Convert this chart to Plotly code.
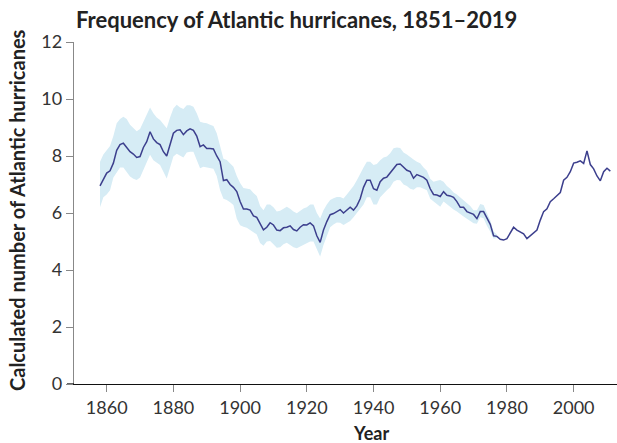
import plotly.graph_objects as go

years = list(range(1858, 2012))
hurricanes = [
    6.95, 7.2, 7.4, 7.48, 7.75, 8.2, 8.4, 8.45, 8.3, 8.15,
    8.07, 7.95, 7.98, 8.3, 8.5, 8.85, 8.6, 8.47, 8.4, 8.15,
    8.0, 8.4, 8.8, 8.9, 8.92, 8.75, 8.88, 8.95, 8.9, 8.7,
    8.33, 8.39, 8.26, 8.26, 8.25, 8.0, 7.8, 7.14, 7.17, 7.0,
    6.9, 6.75, 6.4, 6.14, 6.14, 6.1, 5.9, 5.85, 5.6, 5.41,
    5.5, 5.66, 5.58, 5.4, 5.38, 5.48, 5.5, 5.55, 5.42, 5.37,
    5.5, 5.59, 5.58, 5.65, 5.55, 5.2, 4.97, 5.4, 5.7, 5.94,
    5.98, 6.05, 6.12, 6.0, 6.1, 6.2, 6.1, 6.25, 6.5, 6.9,
    7.15, 7.15, 6.85, 6.8, 7.1, 7.22, 7.26, 7.4, 7.58, 7.7,
    7.72, 7.6, 7.5, 7.45, 7.22, 7.35, 7.3, 7.25, 7.15, 6.85,
    6.65, 6.63, 6.58, 6.75, 6.62, 6.6, 6.55, 6.4, 6.2, 6.2,
    6.05, 6.01, 5.95, 5.8, 6.05, 6.05, 5.85, 5.6, 5.2, 5.18,
    5.08, 5.05, 5.1, 5.3, 5.5, 5.4, 5.32, 5.27, 5.1, 5.2,
    5.32, 5.4, 5.75, 6.05, 6.15, 6.4, 6.5, 6.6, 6.72, 7.15,
    7.25, 7.45, 7.75, 7.78, 7.83, 7.74, 8.18, 7.7, 7.55, 7.3,
    7.13, 7.45, 7.57, 7.47,
]

band_years = list(range(1858, 1978))
band_upper = [
    7.8, 8.05, 8.2, 8.35, 8.7, 9.15, 9.3, 9.38, 9.3, 9.1,
    8.98, 8.87, 8.95, 9.2, 9.45, 9.7, 9.5, 9.35, 9.26, 9.1,
    8.97, 9.35, 9.67, 9.8, 9.7, 9.65, 9.78, 9.78, 9.73, 9.5,
    9.2, 9.17, 9.15, 9.1, 9.05, 8.8, 8.3, 7.9, 7.86, 7.75,
    7.62, 7.3, 7.05, 6.88, 6.85, 6.83, 6.7, 6.6, 6.25, 6.1,
    6.3, 6.3, 6.2, 6.05, 6.08, 6.15, 6.22, 6.15, 6.05, 5.99,
    6.08, 6.16, 6.2, 6.3, 6.3, 6.0, 5.81, 6.1, 6.3, 6.46,
    6.52, 6.56, 6.56, 6.51, 6.65, 6.8, 6.95, 7.15, 7.4, 7.6,
    7.8, 7.8, 7.68, 7.72, 7.85, 7.95, 7.98, 8.1, 8.27, 8.3,
    8.28, 8.12, 8.05, 7.95, 7.88, 7.8, 7.75, 7.6, 7.48, 7.2,
    7.1, 7.13, 7.16, 7.1, 6.95, 6.85, 6.72, 6.65, 6.55, 6.46,
    6.35, 6.25, 6.1, 6.1, 6.32, 6.28, 6.0, 5.75, 5.35, 5.25,
]
band_lower = [
    6.2, 6.55, 6.65, 6.8, 7.25, 7.45, 7.6, 7.6, 7.45, 7.28,
    7.2, 7.16, 7.25, 7.5, 7.8, 8.04, 7.85, 7.75, 7.68, 7.45,
    7.21, 7.6, 7.98, 8.08, 8.0, 7.95, 8.12, 8.15, 8.15, 7.85,
    7.57, 7.62, 7.6, 7.58, 7.55, 7.3, 6.8, 6.5, 6.46, 6.38,
    6.28, 5.8, 5.57, 5.52, 5.48, 5.4, 5.32, 5.25, 4.95, 4.85,
    5.0, 5.02, 4.9, 4.78, 4.8, 4.9, 4.96, 4.88, 4.8, 4.76,
    4.82, 4.88, 4.92, 5.0, 5.0, 4.7, 4.47, 4.88, 5.2, 5.5,
    5.6, 5.67, 5.66, 5.58, 5.65, 5.72, 5.85, 6.0, 6.15, 6.3,
    6.55, 6.55, 6.3, 6.3, 6.55, 6.68, 6.8, 6.9, 7.1, 7.16,
    7.15, 7.0, 6.95, 6.85, 6.82, 6.9, 6.9, 6.85, 6.8, 6.5,
    6.4, 6.3, 6.22, 6.4, 6.3, 6.2, 6.12, 6.05, 5.95, 5.88,
    5.8, 5.72, 5.64, 5.62, 5.85, 5.82, 5.55, 5.35, 5.1, 5.12,
]

x_ticks = [1860, 1880, 1900, 1920, 1940, 1960, 1980, 2000]
y_ticks = [0, 2, 4, 6, 8, 10, 12]

FONT = "Lato, 'Open Sans', sans-serif"
W, H = 617, 443
ML, MR, MT, MB = 74, 0, 42, 59
PW, PH = W - ML - MR, H - MT - MB

fig = go.Figure()
fig.add_trace(go.Scatter(x=band_years, y=band_lower, mode="lines",
                         line=dict(width=0, color="#d6ecf5"),
                         showlegend=False, hoverinfo="skip"))
fig.add_trace(go.Scatter(x=band_years, y=band_upper, mode="lines",
                         line=dict(width=0, color="#d6ecf5"),
                         fill="tonexty", fillcolor="#d6ecf5",
                         showlegend=False, hoverinfo="skip"))
fig.add_trace(go.Scatter(x=years, y=hurricanes, mode="lines",
                         line=dict(width=1.5, color="#3c3f8d"),
                         showlegend=False))

fig.update_layout(
    width=W, height=H,
    margin=dict(l=ML, r=MR, t=MT, b=MB),
    paper_bgcolor="white", plot_bgcolor="white",
    font=dict(family=FONT, size=18, color="#333333"),
    xaxis=dict(range=[1850.2, 2013.0], tickvals=x_ticks,
               ticktext=[str(v) for v in x_ticks],
               showgrid=False, zeroline=False,
               showline=True, linecolor="#111111", linewidth=1.3,
               ticks="outside", ticklen=7, tickcolor="#888888", tickwidth=1,
               tickfont=dict(size=18, color="#333333")),
    yaxis=dict(range=[0, 12], tickvals=y_ticks,
               showgrid=False, zeroline=False,
               showline=True, linecolor="#888888", linewidth=1.3,
               ticks="outside", ticklen=7, tickcolor="#888888", tickwidth=1,
               tickfont=dict(size=18, color="#333333")),
    title=dict(text="<b>Frequency of Atlantic hurricanes, 1851–2019</b>",
               font=dict(family=FONT, size=22, color="#222222"),
               xref="container", yref="container",
               x=76 / W, xanchor="left", y=1 - 20 / H, yanchor="middle"),
)

fig.add_shape(type="line", xref="paper", yref="y",
              x0=-7 / PW, x1=0, y0=0, y1=0,
              line=dict(color="#111111", width=1.3))

fig.add_annotation(text="<b>Calculated number of Atlantic hurricanes</b>",
                   xref="paper", yref="paper",
                   x=(17 - ML) / PW, y=(MT + PH - 210) / PH,
                   xanchor="center", yanchor="middle", textangle=-90,
                   showarrow=False,
                   font=dict(family=FONT, size=20, color="#222222"))
fig.add_annotation(text="<b>Year</b>",
                   xref="paper", yref="paper",
                   x=(371 - ML) / PW, y=-(433 - (MT + PH)) / PH,
                   xanchor="center", yanchor="middle",
                   showarrow=False,
                   font=dict(family=FONT, size=18, color="#222222"))

fig.write_html("out.html",
               config={"displayModeBar": False},
               post_script="document.body.style.margin='0px';document.body.style.overflow='hidden';")
